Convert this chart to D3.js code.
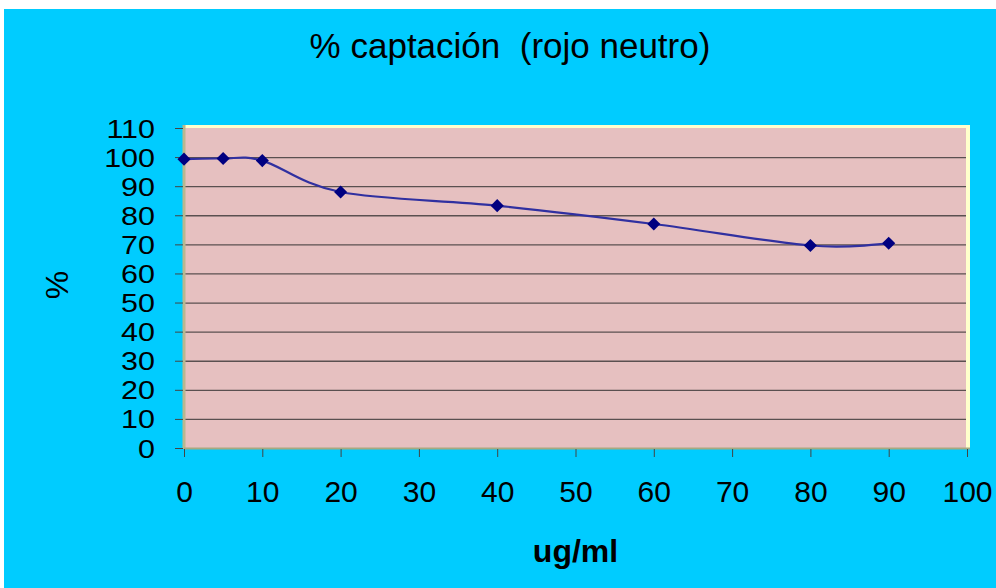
<!DOCTYPE html>
<html>
<head>
<meta charset="utf-8">
<script src="https://cdn.jsdelivr.net/npm/d3@7"></script>
<style>
	body{margin:0;padding:0;background:#fff;}
	svg{display:block;}
	text{font-family:Arial,"Liberation Sans",sans-serif;fill:#000;}
</style>
</head>
<body>
<div id="idChart"></div>
<script>
// data
var aDoses=[0,5,10,20,40,60,80,90];
var aCaptacion=[99.3,99.5,98.8,88,83.3,77,69.6,70.4];
var aXTicks=[0,10,20,30,40,50,60,70,80,90,100];
var aYTicks=[0,10,20,30,40,50,60,70,80,90,100,110];
var sTitle="% captación  (rojo neutro)";
var sXTitle="ug/ml";
var sYTitle="%";

function DrawCaptacionChart()
{
	var iWidth=996;
	var iHeight=588;
	var iLeft=184, iRight=967, iTop=128, iBottom=448;
	var fStretch=1.22;

	var myCanvas=d3.select("#idChart").append("svg")
		.attr("width",iWidth)
		.attr("height",iHeight);

	// cyan chart area, white margin top/left
	myCanvas.append("rect")
		.attr("x",4).attr("y",9)
		.attr("width",iWidth-4).attr("height",iHeight-9)
		.attr("fill","#00CCFF");

	var xScale=d3.scaleLinear().domain([0,100]).range([iLeft,iRight]);
	var yScale=d3.scaleLinear().domain([0,110]).range([iBottom,iTop]);

	// plot area
	myCanvas.append("rect")
		.attr("x",iLeft).attr("y",iTop)
		.attr("width",iRight-iLeft).attr("height",iBottom-iTop)
		.attr("fill","#E6C0C0");

	// gridlines
	myCanvas.append("g").selectAll("line")
		.data(aYTicks.filter(function(v){return v>0 && v<110;}))
		.enter().append("line")
			.attr("x1",iLeft).attr("x2",iRight)
			.attr("y1",function(v){return yScale(v)+0.5;})
			.attr("y2",function(v){return yScale(v)+0.5;})
			.attr("stroke","#5a5050").attr("stroke-width",1.3);

	// 3D-ish border
	myCanvas.append("line").attr("x1",iLeft).attr("x2",iRight+3).attr("y1",iTop-1.5).attr("y2",iTop-1.5)
		.attr("stroke","#FFFFCC").attr("stroke-width",3);
	myCanvas.append("line").attr("x1",iRight+1).attr("x2",iRight+1).attr("y1",iTop-3).attr("y2",iBottom)
		.attr("stroke","#FFFFCC").attr("stroke-width",4);
	myCanvas.append("line").attr("x1",iLeft).attr("x2",iLeft).attr("y1",iTop-3).attr("y2",iBottom+1)
		.attr("stroke","#B8B890").attr("stroke-width",3);
	myCanvas.append("line").attr("x1",iLeft).attr("x2",iRight+3).attr("y1",iBottom+0.5).attr("y2",iBottom+0.5)
		.attr("stroke","#A8A880").attr("stroke-width",2);

	// y axis
	var yAxis=d3.axisLeft(yScale).tickValues(aYTicks).tickSize(8);
	var gY=myCanvas.append("g").attr("transform","translate("+(iLeft-1)+",0)").call(yAxis);
	gY.select(".domain").remove();
	gY.selectAll("line").attr("stroke","#444");
	gY.selectAll("text")
		.attr("font-size","25px")
		.attr("font-family","Arial,'Liberation Sans',sans-serif")
		.attr("fill","#000")
		.attr("x",-28/fStretch)
		.attr("dy","0.36em")
		.attr("transform","scale("+fStretch+",1)");

	// x axis
	var xAxis=d3.axisBottom(xScale).tickValues(aXTicks).tickSize(8).tickPadding(24);
	var gX=myCanvas.append("g").attr("transform","translate(0,"+(iBottom+1)+")").call(xAxis);
	gX.select(".domain").remove();
	gX.selectAll("line").attr("stroke","#444");
	gX.selectAll("text").attr("font-size","30px").attr("font-family","Arial,'Liberation Sans',sans-serif").attr("fill","#000");

	// series
	var myLine=d3.line()
		.x(function(d,i){return xScale(aDoses[i]);})
		.y(function(d){return yScale(d);})
		.curve(d3.curveCatmullRom.alpha(0));

	myCanvas.append("path")
		.datum(aCaptacion)
		.attr("d",myLine)
		.attr("fill","none")
		.attr("stroke","#3030A0")
		.attr("stroke-width",2.2);

	myCanvas.append("g").selectAll("path")
		.data(aCaptacion)
		.enter().append("path")
			.attr("d",d3.symbol().type(d3.symbolDiamond2).size(110))
			.attr("transform",function(d,i){return "translate("+xScale(aDoses[i])+","+yScale(d)+")";})
			.attr("fill","#000080");

	// titles
	myCanvas.append("text")
		.attr("x",510).attr("y",58)
		.attr("text-anchor","middle")
		.attr("font-size","35px")
		.style("white-space","pre")
		.text(sTitle);

	myCanvas.append("text")
		.attr("x",(iLeft+iRight)/2).attr("y",562)
		.attr("text-anchor","middle")
		.attr("font-size","32px")
		.attr("font-weight","bold")
		.text(sXTitle);

	myCanvas.append("text")
		.attr("transform","translate(68,285) rotate(-90)")
		.attr("text-anchor","middle")
		.attr("font-size","32px")
		.text(sYTitle);
}

DrawCaptacionChart();
</script>
</body>
</html>
